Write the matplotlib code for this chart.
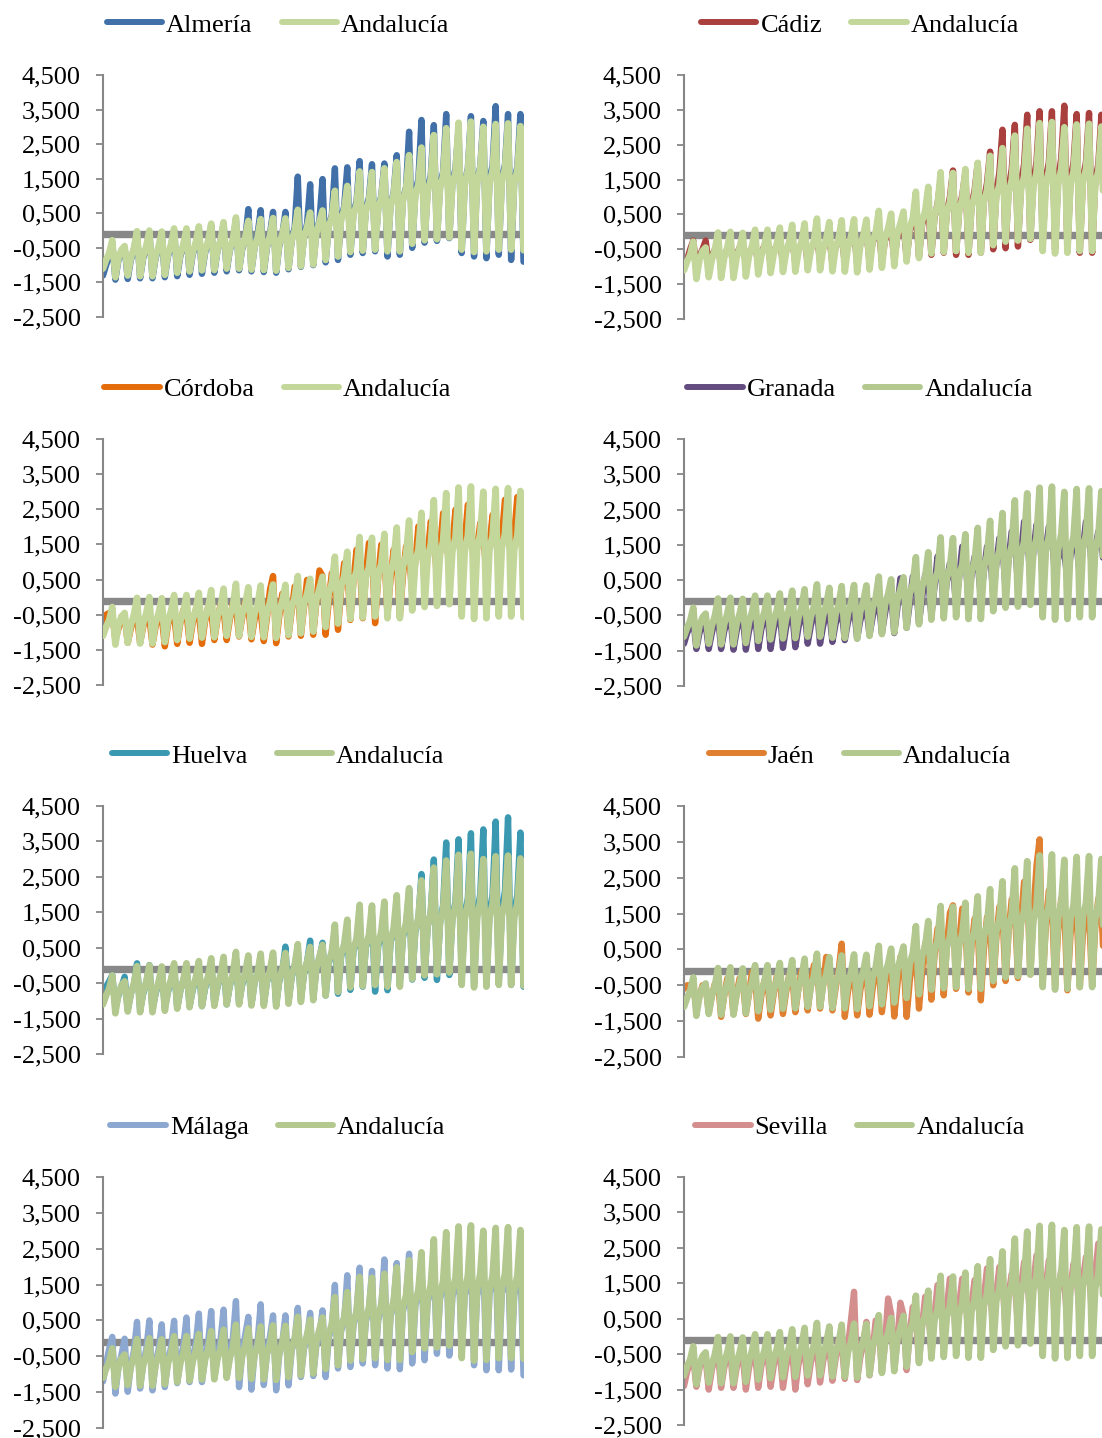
import matplotlib
matplotlib.use('Agg')
import matplotlib.pyplot as plt
from matplotlib.ticker import FuncFormatter, FixedLocator
from matplotlib.lines import Line2D

# each series: 3 starting values, then per cycle k: peak P[k], trough T[k],
# shoulder S[k], pre-peak D[k] (S and D only between cycles)

and_start = [-1.1, -0.85, -0.65]
and_p = [-0.28, -0.45, -0.02, 0.0, -0.03, 0.06, 0.06, 0.12, 0.2, 0.24, 0.38, 0.28, 0.33, 0.36, 0.35, 0.6, 0.52,
         0.58, 1.15, 1.29, 1.71, 1.69, 1.8, 1.98, 2.18, 2.4, 2.76, 2.96, 3.12, 3.15, 3.0, 3.08, 3.1, 3.02]
and_t = [-1.35, -1.3, -1.32, -1.32, -1.28, -1.22, -1.18, -1.15, -1.14, -1.1, -1.1, -1.13, -1.14, -1.16, -1.08, -1.03,
         -0.98, -0.85, -0.75, -0.62, -0.58, -0.55, -0.6, -0.6, -0.38, -0.28, -0.25, -0.2, -0.55, -0.62, -0.6, -0.55, -0.55, -0.57]
and_s = [-0.8, -0.8, -0.75, -0.75, -0.7, -0.7, -0.65, -0.6, -0.58, -0.55, -0.5, -0.48, -0.45, -0.4, -0.3, -0.2, -0.08,
         0.1, 0.3, 0.45, 0.55, 0.62, 0.7, 0.85, 1.0, 1.1, 1.2, 1.3, 1.3, 1.35, 1.35, 1.4, 1.35]
and_d = [-0.55, -0.5, -0.45, -0.45, -0.4, -0.4, -0.35, -0.3, -0.28, -0.25, -0.2, -0.2, -0.15, -0.1, 0.0, 0.1, 0.25,
         0.4, 0.6, 0.75, 0.85, 0.95, 1.05, 1.2, 1.35, 1.5, 1.6, 1.7, 1.75, 1.8, 1.75, 1.8, 1.75]

alm_start = [-1.3, -1.0, -0.75]
alm_p = [-0.35, -0.5, -0.1, -0.05, -0.1, 0.0, 0.0, 0.05, 0.15, 0.2, 0.3, 0.62, 0.59, 0.54, 0.54, 1.56, 1.34,
         1.49, 1.8, 1.83, 2.01, 1.92, 1.94, 2.18, 2.86, 3.2, 3.05, 3.37, 2.95, 3.31, 3.17, 3.6, 3.37, 3.37]
alm_t = [-1.42, -1.4, -1.38, -1.38, -1.35, -1.32, -1.28, -1.25, -1.22, -1.18, -1.15, -1.18, -1.2, -1.22, -1.12, -1.05,
         -1.0, -0.92, -0.85, -0.7, -0.65, -0.6, -0.75, -0.7, -0.5, -0.35, -0.3, -0.22, -0.65, -0.75, -0.8, -0.7, -0.85, -0.9]
alm_s = [-0.85, -0.85, -0.8, -0.8, -0.75, -0.75, -0.7, -0.65, -0.6, -0.58, -0.55, -0.5, -0.5, -0.45, -0.3, -0.2, -0.05,
         0.15, 0.35, 0.5, 0.6, 0.65, 0.75, 0.9, 1.1, 1.2, 1.3, 1.4, 1.4, 1.45, 1.45, 1.5, 1.45]
alm_d = [-0.6, -0.55, -0.5, -0.5, -0.45, -0.45, -0.4, -0.35, -0.3, -0.28, -0.25, -0.1, -0.1, -0.1, 0.1, 0.2, 0.3,
         0.45, 0.7, 0.85, 0.95, 1.0, 1.1, 1.25, 1.5, 1.6, 1.7, 1.8, 1.8, 1.85, 1.9, 1.9, 1.85]

cad_start = [-1.0, -0.8, -0.5]
cad_p = [-0.25, -0.25, -0.35, -0.35, -0.3, -0.3, -0.25, -0.25, -0.2, -0.2, -0.1, -0.15, -0.1, 0.0, 0.0, 0.1, 0.1,
         0.2, 0.6, 0.8, 1.5, 1.76, 1.7, 1.97, 2.3, 2.93, 3.07, 3.36, 3.46, 3.46, 3.62, 3.38, 3.41, 3.36]
cad_t = [-1.0, -0.95, -1.0, -1.0, -0.95, -0.95, -0.95, -0.9, -0.9, -0.9, -0.85, -0.9, -0.9, -0.9, -0.85, -0.85,
         -0.8, -0.75, -0.7, -0.66, -0.6, -0.66, -0.66, -0.6, -0.5, -0.47, -0.42, -0.23, -0.38, -0.5, -0.55, -0.6, -0.6, -0.55]
cad_s = [-0.7, -0.7, -0.65, -0.65, -0.6, -0.6, -0.55, -0.55, -0.5, -0.5, -0.45, -0.45, -0.4, -0.35, -0.3, -0.25, -0.15,
         0.0, 0.2, 0.4, 0.55, 0.65, 0.75, 0.9, 1.1, 1.25, 1.35, 1.45, 1.5, 1.5, 1.5, 1.5, 1.45]
cad_d = [-0.5, -0.5, -0.5, -0.45, -0.45, -0.4, -0.4, -0.35, -0.35, -0.3, -0.3, -0.25, -0.2, -0.15, -0.1, -0.05, 0.05,
         0.3, 0.5, 0.8, 1.0, 1.05, 1.2, 1.4, 1.7, 1.8, 1.95, 2.0, 2.0, 2.1, 2.0, 2.0, 1.95]

cor_start = [-0.7, -0.5, -0.45]
cor_p = [-0.5, -0.55, -0.6, -0.6, -0.55, -0.5, -0.45, -0.45, -0.4, -0.35, -0.3, -0.25, -0.4, 0.6, 0.0, 0.2, 0.35,
         0.6, 0.5, 0.8, 1.1, 1.3, 1.2, 1.1, 1.2, 1.7, 1.8, 2.0, 2.1, 2.2, 1.8, 2.0, 2.4, 2.6]
cor_t = [-1.2, -1.3, -1.3, -1.35, -1.4, -1.33, -1.3, -1.33, -1.22, -1.22, -1.12, -1.2, -1.25, -1.31, -1.12, -1.1,
         -1.07, -1.07, -0.93, -0.65, -0.6, -0.74, -0.5, -0.55, 0.1, 0.4, 0.5, 0.6, 0.7, 0.8, 0.6, 0.7, 0.8, 0.73]
cor_s = [-0.9, -0.9, -0.85, -0.85, -0.8, -0.75, -0.75, -0.7, -0.65, -0.65, -0.6, -0.65, -0.6, -0.55, -0.4, -0.3, -0.15,
         -0.1, 0.2, 0.45, 0.6, 0.55, 0.5, 0.6, 1.0, 1.2, 1.4, 1.5, 1.6, 1.4, 1.5, 1.7, 1.8]
cor_d = [-0.55, -0.55, -0.5, -0.5, -0.45, -0.36, -0.36, -0.27, -0.22, -0.17, -0.12, -0.31, 0.21, 0.1, 0.3, 0.49, 0.76,
         0.68, 0.97, 1.35, 1.54, 1.49, 1.35, 1.44, 2.01, 2.15, 2.39, 2.49, 2.63, 2.11, 2.34, 2.77, 2.85]

gra_start = [-1.3, -1.0, -0.8]
gra_p = [-0.6, -0.75, -0.5, -0.5, -0.5, -0.45, -0.45, -0.4, -0.4, -0.35, -0.3, -0.4, -0.35, -0.3, -0.3, -0.1, 0.1,
         0.4, 0.45, 0.5, 0.9, 0.8, 1.2, 1.0, 1.25, 1.45, 1.65, 1.9, 1.8, 1.8, 1.3, 1.5, 1.9, 1.7]
gra_t = [-1.45, -1.45, -1.45, -1.47, -1.47, -1.45, -1.45, -1.42, -1.4, -1.3, -1.3, -1.25, -1.2, -1.15, -1.05, -1.0,
         -1.0, -0.85, -0.7, -0.5, -0.3, -0.2, -0.1, 0.0, 0.1, 0.25, 0.4, 0.5, 0.6, 0.6, 0.5, 0.6, 0.7, 0.6]
gra_s = [-1.0, -1.0, -0.95, -0.95, -0.95, -0.9, -0.9, -0.85, -0.85, -0.8, -0.8, -0.75, -0.7, -0.65, -0.55, -0.45, -0.3,
         -0.15, 0.0, 0.3, 0.45, 0.6, 0.65, 0.75, 0.95, 1.1, 1.25, 1.3, 1.35, 1.1, 1.2, 1.4, 1.35]
gra_d = [-0.7, -0.65, -0.65, -0.6, -0.6, -0.55, -0.55, -0.5, -0.5, -0.45, -0.45, -0.45, -0.4, -0.35, -0.2, 0.05, 0.55,
         0.6, 0.65, 1.17, 0.98, 1.45, 1.17, 1.45, 1.69, 1.88, 2.16, 2.07, 2.02, 1.5, 1.69, 2.16, 1.88]

hue_start = [-0.7, -0.6, -0.45]
hue_p = [-0.27, -0.32, 0.06, 0.01, -0.1, -0.05, -0.05, 0.0, 0.05, 0.1, 0.2, 0.1, 0.2, 0.25, 0.53, 0.45, 0.7,
         0.64, 0.9, 1.0, 1.3, 1.4, 1.5, 1.7, 2.1, 2.58, 2.99, 3.47, 3.56, 3.73, 3.84, 4.06, 4.18, 3.75]
hue_t = [-1.2, -1.25, -1.25, -1.25, -1.2, -1.2, -1.15, -1.15, -1.1, -1.1, -1.05, -1.1, -1.1, -1.1, -1.0, -0.95,
         -0.9, -0.85, -0.8, -0.69, -0.6, -0.74, -0.7, -0.5, -0.4, -0.35, -0.41, -0.27, -0.36, -0.5, -0.5, -0.5, -0.55, -0.6]
hue_s = [-0.85, -0.8, -0.8, -0.8, -0.75, -0.72, -0.7, -0.65, -0.62, -0.58, -0.55, -0.5, -0.48, -0.45, -0.35, -0.25, -0.1,
         0.05, 0.25, 0.4, 0.5, 0.55, 0.65, 0.8, 0.95, 1.1, 1.2, 1.35, 1.4, 1.45, 1.5, 1.55, 1.5]
hue_d = [-0.6, -0.55, -0.5, -0.5, -0.45, -0.42, -0.4, -0.35, -0.32, -0.28, -0.25, -0.2, -0.18, -0.15, 0.0, 0.1, 0.2,
         0.35, 0.55, 0.7, 0.8, 0.85, 0.95, 1.1, 1.3, 1.5, 1.7, 1.8, 1.9, 2.0, 2.0, 2.1, 2.0]

jae_start = [-0.6, -0.5, -0.5]
jae_p = [-0.45, -0.5, -0.4, -0.35, -0.35, -0.3, -0.4, -0.3, -0.25, -0.1, 0.1, 0.0, 0.66, -0.2, -0.1, 0.0, 0.1,
         0.2, 0.4, 0.8, 1.2, 1.73, 1.2, 1.1, 1.2, 1.5, 1.7, 2.3, 3.57, 1.8, 1.6, 1.5, 1.5, 1.7]
jae_t = [-1.2, -1.25, -1.38, -1.3, -1.3, -1.43, -1.34, -1.3, -1.25, -1.2, -1.15, -1.2, -1.38, -1.34, -1.32, -1.25,
         -1.37, -1.38, -1.15, -0.9, -0.78, -0.6, -0.7, -0.92, -0.5, -0.38, -0.3, -0.2, -0.4, -0.5, -0.64, -0.55, -0.5, -0.45]
jae_s = [-0.8, -0.8, -0.8, -0.75, -0.75, -0.8, -0.75, -0.7, -0.6, -0.5, -0.45, -0.6, -0.7, -0.65, -0.6, -0.5, -0.5,
         -0.4, -0.1, 0.3, 0.6, 0.7, 0.6, 0.5, 0.8, 1.0, 1.3, 1.5, 1.1, 1.0, 0.9, 0.9, 1.1]
jae_d = [-0.5, -0.45, -0.31, -0.3, -0.13, -0.36, -0.25, -0.22, -0.1, 0.06, 0.29, -0.1, -0.2, -0.15, -0.05, 0.05, 0.29,
         0.3, 0.66, 1.08, 1.52, 1.64, 1.36, 1.4, 1.69, 1.9, 2.39, 2.82, 2.15, 1.92, 1.69, 1.69, 1.92]

mal_start = [-1.2, -0.7, -0.3]
mal_p = [0.04, -0.01, 0.46, 0.5, 0.39, 0.49, 0.58, 0.69, 0.76, 0.8, 1.04, 0.6, 0.95, 0.64, 0.64, 0.85, 0.71,
         0.78, 1.49, 1.76, 1.97, 1.88, 2.2, 2.1, 2.36, 2.1, 2.2, 2.3, 2.2, 2.1, 2.2, 2.3, 2.2, 2.1]
mal_t = [-1.54, -1.49, -1.4, -1.45, -1.36, -1.25, -1.22, -1.22, -1.12, -1.08, -1.36, -1.43, -1.3, -1.45, -1.31, -1.08,
         -1.05, -1.08, -0.84, -0.8, -0.7, -0.75, -0.84, -0.86, -0.7, -0.61, -0.43, -0.48, -0.38, -0.75, -0.89, -0.89, -0.87, -1.03]
mal_s = [-0.8, -0.75, -0.7, -0.7, -0.65, -0.6, -0.6, -0.55, -0.5, -0.5, -0.45, -0.45, -0.45, -0.45, -0.35, -0.3, -0.2,
         0.0, 0.2, 0.35, 0.45, 0.5, 0.6, 0.75, 0.9, 1.0, 1.1, 1.15, 1.2, 1.2, 1.25, 1.25, 1.2]
mal_d = [-0.45, -0.35, -0.3, -0.3, -0.25, -0.2, -0.15, -0.1, -0.05, 0.0, 0.1, -0.1, 0.05, -0.1, -0.05, 0.0, 0.1,
         0.3, 0.5, 0.7, 0.8, 0.85, 0.95, 1.1, 1.25, 1.35, 1.45, 1.5, 1.5, 1.5, 1.55, 1.55, 1.5]

sev_start = [-1.4, -1.0, -0.7]
sev_p = [-0.6, -0.65, -0.5, -0.5, -0.55, -0.5, -0.5, -0.45, -0.45, -0.4, -0.35, -0.3, -0.2, 1.26, 0.41, 0.3, 0.63,
         0.6, 0.5, 0.9, 1.2, 1.3, 1.3, 1.3, 1.5, 1.6, 1.5, 1.8, 2.0, 1.8, 1.5, 1.7, 1.9, 2.3]
sev_t = [-1.42, -1.5, -1.45, -1.45, -1.5, -1.45, -1.42, -1.45, -1.5, -1.35, -1.3, -1.25, -1.2, -1.23, -1.1, -1.0,
         -0.95, -0.95, -0.7, -0.5, -0.3, -0.2, -0.1, 0.0, 0.1, 0.2, 0.3, 0.4, 0.4, 0.4, 0.4, 0.5, 0.5, 0.6]
sev_s = [-0.9, -0.95, -0.9, -0.9, -0.9, -0.85, -0.85, -0.85, -0.8, -0.75, -0.7, -0.65, -0.3, -0.6, -0.4, -0.2, -0.1,
         0.1, 0.3, 0.6, 0.8, 0.9, 0.9, 1.1, 1.2, 1.2, 1.4, 1.5, 1.4, 1.3, 1.4, 1.6, 1.8]
sev_d = [-0.6, -0.55, -0.5, -0.55, -0.5, -0.5, -0.45, -0.5, -0.45, -0.4, -0.35, -0.1, 0.46, -0.2, 0.45, 1.07, 0.95,
         0.83, 1.12, 1.45, 1.63, 1.63, 1.59, 1.92, 1.96, 1.77, 2.1, 2.29, 2.15, 1.87, 2.06, 2.24, 2.62]

ref_level = -0.1
yticks = [-2.5, -1.5, -0.5, 0.5, 1.5, 2.5, 3.5, 4.5]

provinces = ['Almería', 'Cádiz', 'Córdoba', 'Granada', 'Huelva', 'Jaén', 'Málaga', 'Sevilla']
prov_colors = ['#4170A9', '#A9403D', '#E46C0A', '#634C80', '#3A98B1', '#E07F30', '#8DA8D0', '#D48E8E']
and_colors = ['#C4D79B', '#C4D79B', '#C4D79B', '#B3C88F', '#B3C88F', '#B3C88F', '#B3C88F', '#B3C88F']


def build(start, p, t, s, d):
    vals = list(start)
    for k in range(len(p)):
        vals += [p[k], t[k]]
        if k < len(s):
            vals += [s[k], d[k]]
    return vals


prov_series = [build(alm_start, alm_p, alm_t, alm_s, alm_d),
               build(cad_start, cad_p, cad_t, cad_s, cad_d),
               build(cor_start, cor_p, cor_t, cor_s, cor_d),
               build(gra_start, gra_p, gra_t, gra_s, gra_d),
               build(hue_start, hue_p, hue_t, hue_s, hue_d),
               build(jae_start, jae_p, jae_t, jae_s, jae_d),
               build(mal_start, mal_p, mal_t, mal_s, mal_d),
               build(sev_start, sev_p, sev_t, sev_s, sev_d)]
and_series = build(and_start, and_p, and_t, and_s, and_d)

plt.rcParams['font.family'] = ['Liberation Serif', 'DejaVu Serif']

W, H = 1102, 1438
fig = plt.figure(figsize=(W / 100, H / 100), dpi=100)

# pixel layout: (axis x, y of 4.5 tick, y of -2.5 tick, legend centre x, legend centre y)
layout = [(103, 75, 317, 278, 25), (684, 75, 319, 860, 25),
          (103, 439, 685, 278, 389), (684, 439, 686, 860, 389),
          (103, 806, 1054, 278, 756), (684, 806, 1057, 860, 756),
          (103, 1177, 1428, 278, 1127), (684, 1177, 1425, 860, 1127)]
npts = len(and_series)
step_px = 3.092
width_px = (npts - 1) * step_px

fmt = FuncFormatter(lambda v, pos: '{0:.3f}'.format(v).replace('.', ','))

for i, name in enumerate(provinces):
    x0, ytop, ybot, lx, ly = layout[i]
    ax = fig.add_axes([x0 / W, 1 - ybot / H, width_px / W, (ybot - ytop) / H])
    xs = list(range(npts))
    ax.plot([xs[0], xs[-1]], [ref_level, ref_level], color='#888888', lw=5.3, solid_capstyle='butt', zorder=1)
    ax.plot(xs, prov_series[i], color=prov_colors[i], lw=4.6,
            solid_joinstyle='round', solid_capstyle='round', zorder=2)
    ax.plot(xs, and_series, color=and_colors[i], lw=4.8,
            solid_joinstyle='round', solid_capstyle='round', zorder=3)
    ax.set_xlim(0, npts - 1)
    ax.set_ylim(-2.5, 4.5)
    ax.yaxis.set_major_locator(FixedLocator(yticks))
    ax.yaxis.set_major_formatter(fmt)
    ax.set_xticks([])
    for sp in ['top', 'right', 'bottom']:
        ax.spines[sp].set_visible(False)
    ax.spines['left'].set_color('#878787')
    ax.spines['left'].set_linewidth(1.5)
    ax.tick_params(axis='y', direction='out', length=5, width=1.3, color='#878787', pad=11, labelsize=19)
    ax.patch.set_alpha(0)
    handles = [Line2D([], [], color=prov_colors[i], lw=4.3, solid_capstyle='round'),
               Line2D([], [], color=and_colors[i], lw=4.3, solid_capstyle='round')]
    fig.legend(handles, [name, 'Andalucía'], loc='center', bbox_to_anchor=(lx / W, 1 - ly / H),
               ncol=2, frameon=False, fontsize=19, handlelength=2.1, handletextpad=0.15,
               columnspacing=1.1, borderpad=0)

fig.savefig('out.png', dpi=100)
